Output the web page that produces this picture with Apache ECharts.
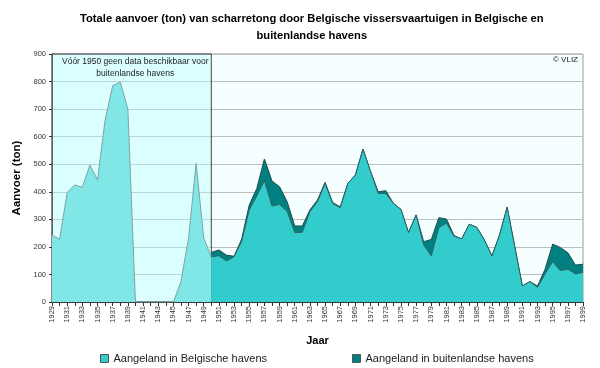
<!DOCTYPE html>
<html>
<head>
<meta charset="utf-8">
<script src="https://cdn.jsdelivr.net/npm/echarts@6/dist/echarts.min.js"></script>
<style>html,body{margin:0;padding:0;background:#fff}#c{width:600px;height:368px}</style>
</head>
<body>
<div id="c"></div>
<script>
var years = [];
for (var y = 1929; y <= 1999; y++) years.push(String(y));

// 1929-1950: total landings (no split available)
var before1950 = [243, 228, 397, 425, 416, 497, 443, 660, 785, 798, 700, 0, 0, 0, 0, 0, 0, 74, 231, 503, 232, 163];

// 1950-1999
var belgianPorts = [164, 168, 149, 164, 220, 334, 385, 440, 348, 354,
  328, 252, 253, 328, 364, 430, 358, 342, 430, 461,
  555, 473, 394, 394, 358, 336, 252, 316, 207, 167,
  270, 286, 239, 229, 282, 271, 225, 167, 243, 344,
  201, 58, 74, 53, 102, 146, 114, 119, 102, 108];
var foreignPorts = [16, 21, 21, 2, 8, 18, 27, 79, 91, 64,
  36, 24, 23, 6, 6, 4, 3, 3, 0, 0,
  0, 0, 6, 10, 0, 0, 0, 0, 12, 60,
  36, 15, 2, 0, 0, 0, 0, 0, 0, 0,
  0, 0, 0, 5, 17, 64, 84, 60, 32, 29];

var nPre = years.length - before1950.length;
var s0 = before1950.concat(new Array(nPre).fill(null));
var lead = new Array(years.length - belgianPorts.length).fill(null);
var s1 = lead.concat(belgianPorts);
var s2 = lead.concat(foreignPorts);

var FONT = 'Liberation Sans';
var chart = echarts.init(document.getElementById('c'), null, {renderer: 'canvas'});
chart.setOption({
  animation: false,
  textStyle: {fontFamily: FONT},
  grid: {left: 52, right: 17, top: 54, bottom: 66, show: true,
    backgroundColor: '#f5ffff', borderColor: '#9a9a9a', borderWidth: 1},
  graphic: [
    {type: 'text', left: 80, top: 10, z: 100, style: {
      text: 'Totale aanvoer (ton) van scharretong door Belgische vissersvaartuigen in Belgische en\nbuitenlandse havens',
      font: 'bold 11.2px "Liberation Sans"', fill: '#000', textAlign: 'center', lineHeight: 17}},
    {type: 'text', left: 62, top: 56, z: 100, style: {
      text: 'Vóór 1950 geen data beschikbaar voor\nbuitenlandse havens',
      font: '8.5px "Liberation Sans"', fill: '#222', textAlign: 'center', lineHeight: 12}},
    {type: 'text', right: 22, top: 56, z: 100, style: {
      text: '© VLIZ', font: '8px "Liberation Sans"', fill: '#222'}}
  ],
  legend: {
    data: ['Aangeland in Belgische havens', 'Aangeland in buitenlandse havens'],
    left: 95, top: 348, itemWidth: 8, itemHeight: 8, itemGap: 85, icon: 'rect',
    textStyle: {fontSize: 11, color: '#222', fontFamily: FONT},
    itemStyle: {borderColor: '#555', borderWidth: 1}
  },
  xAxis: {
    type: 'category', data: years, boundaryGap: false,
    name: 'Jaar', nameLocation: 'middle', nameGap: 33,
    nameTextStyle: {fontWeight: 'bold', fontSize: 11, color: '#000'},
    axisLine: {lineStyle: {color: '#333', width: 1}},
    axisTick: {show: true, interval: 0, length: 4, lineStyle: {color: '#333'}},
    axisLabel: {interval: 1, rotate: 90, fontSize: 7.5, color: '#333', margin: 4},
    splitLine: {show: false}
  },
  yAxis: {
    type: 'value', min: 0, max: 900, interval: 100,
    name: 'Aanvoer (ton)', nameLocation: 'middle', nameGap: 28, nameRotate: 90,
    nameTextStyle: {fontWeight: 'bold', fontSize: 11.5, color: '#000'},
    axisLine: {show: true, lineStyle: {color: '#333', width: 1}},
    axisTick: {show: true, length: 3, lineStyle: {color: '#333'}},
    axisLabel: {fontSize: 7.5, color: '#333', margin: 6},
    splitLine: {show: true, lineStyle: {color: '#bdbdbd', width: 1}}
  },
  series: [
    {name: 'Vóór 1950', type: 'line', data: s0, symbol: 'none',
      lineStyle: {color: '#7fa3a3', width: 1}, areaStyle: {color: '#80e6e6', opacity: 1},
      z: 3,
      markArea: {silent: true, data: [[{xAxis: '1929'}, {xAxis: '1950'}]],
        itemStyle: {color: 'rgba(180,255,255,0.4)', borderColor: '#444', borderWidth: 1}}},
    {name: 'Aangeland in Belgische havens', type: 'line', stack: 'tot', data: s1, symbol: 'none',
      itemStyle: {color: '#33cccc'},
      lineStyle: {color: '#2a5f5f', width: 1}, areaStyle: {color: '#33cccc', opacity: 1}, z: 4},
    {name: 'Aangeland in buitenlandse havens', type: 'line', stack: 'tot', data: s2, symbol: 'none',
      itemStyle: {color: '#008080'},
      lineStyle: {color: '#1f4a4a', width: 1}, areaStyle: {color: '#008080', opacity: 1}, z: 3}
  ]
});
</script>
</body>
</html>
